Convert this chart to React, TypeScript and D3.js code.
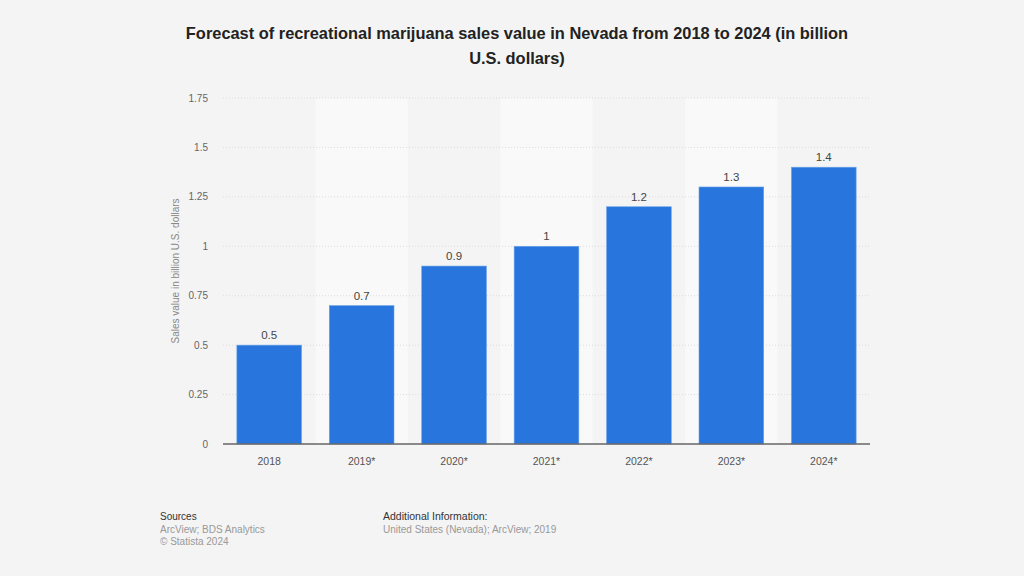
import React from "react";
import * as d3 from "d3";

const categories = ["2018", "2019*", "2020*", "2021*", "2022*", "2023*", "2024*"];
const values = [0.5, 0.7, 0.9, 1, 1.2, 1.3, 1.4];
const yTicks = [0, 0.25, 0.5, 0.75, 1, 1.25, 1.5, 1.75];
const valueLabels = ["0.5", "0.7", "0.9", "1", "1.2", "1.3", "1.4"];

const W = 1024;
const H = 576;
const FONT = "'Liberation Sans', Arial, Helvetica, sans-serif";

export default function App() {
  const x = d3.scaleBand<string>().domain(categories).range([223, 870]).paddingInner(0).paddingOuter(0);
  const y = d3.scaleLinear().domain([0, 1.75]).range([444, 98]);
  const barW = x.bandwidth() * 0.7;
  const fmt = (v: number) => (v === 0 ? "0" : String(v));

  return (
    <svg width={W} height={H} style={{ position: "absolute", left: 0, top: 0, background: "#f4f4f4" }} fontFamily={FONT}>
      <rect x={0} y={0} width={W} height={H} fill="#f4f4f4" />
      {/* title */}
      <text x={517} y={39} textAnchor="middle" fontSize={16.4} fontWeight="bold" fill="#222">
        Forecast of recreational marijuana sales value in Nevada from 2018 to 2024 (in billion
      </text>
      <text x={517} y={64} textAnchor="middle" fontSize={16.4} fontWeight="bold" fill="#222">
        U.S. dollars)
      </text>
      {/* alternating bands */}
      {categories.map((c, i) =>
        i % 2 === 1 ? (
          <rect key={"band" + c} x={x(c)!} y={y(1.75)} width={x.bandwidth()} height={y(0) - y(1.75)} fill="#f9f9f9" />
        ) : null
      )}
      {/* grid */}
      {yTicks.map((t) =>
        t === 0 ? null : (
          <line key={"g" + t} x1={223} x2={870} y1={y(t)} y2={y(t)} stroke="#dcdcdc" strokeWidth={1} strokeDasharray="1,2" />
        )
      )}
      {/* y tick labels */}
      {yTicks.map((t) => (
        <text key={"yt" + t} x={208} y={y(t) + 3.5} textAnchor="end" fontSize={10} fill="#666">
          {fmt(t)}
        </text>
      ))}
      {/* y axis title */}
      <text
        transform={`translate(179, ${y(0.875)}) rotate(-90)`}
        textAnchor="middle"
        fontSize={10}
        fill="#888"
      >
        Sales value in billion U.S. dollars
      </text>
      {/* bars */}
      {categories.map((c, i) => {
        const cx = x(c)! + x.bandwidth() / 2;
        return (
          <g key={"bar" + c}>
            <rect
              x={cx - barW / 2}
              y={y(values[i])}
              width={barW}
              height={y(0) - y(values[i])}
              fill="#2876dd"
              stroke="#6aa2ea"
              strokeWidth={0.6}
            />
            <text x={cx} y={y(values[i]) - 6} textAnchor="middle" fontSize={11.5} fill="#444">
              {valueLabels[i]}
            </text>
            <text x={cx} y={465} textAnchor="middle" fontSize={10.5} fill="#555">
              {c}
            </text>
          </g>
        );
      })}
      {/* baseline */}
      <line x1={223} x2={870} y1={y(0)} y2={y(0)} stroke="#666" strokeWidth={1.5} />
      {/* footer */}
      <text x={160} y={520} fontSize={10} fill="#333">Sources</text>
      <text x={160} y={533} fontSize={10} fill="#999">ArcView; BDS Analytics</text>
      <text x={160} y={545} fontSize={10} fill="#999">© Statista 2024</text>
      <text x={383} y={520} fontSize={10.5} fill="#333">Additional Information:</text>
      <text x={383} y={533} fontSize={10} fill="#999">United States (Nevada); ArcView; 2019</text>
    </svg>
  );
}
